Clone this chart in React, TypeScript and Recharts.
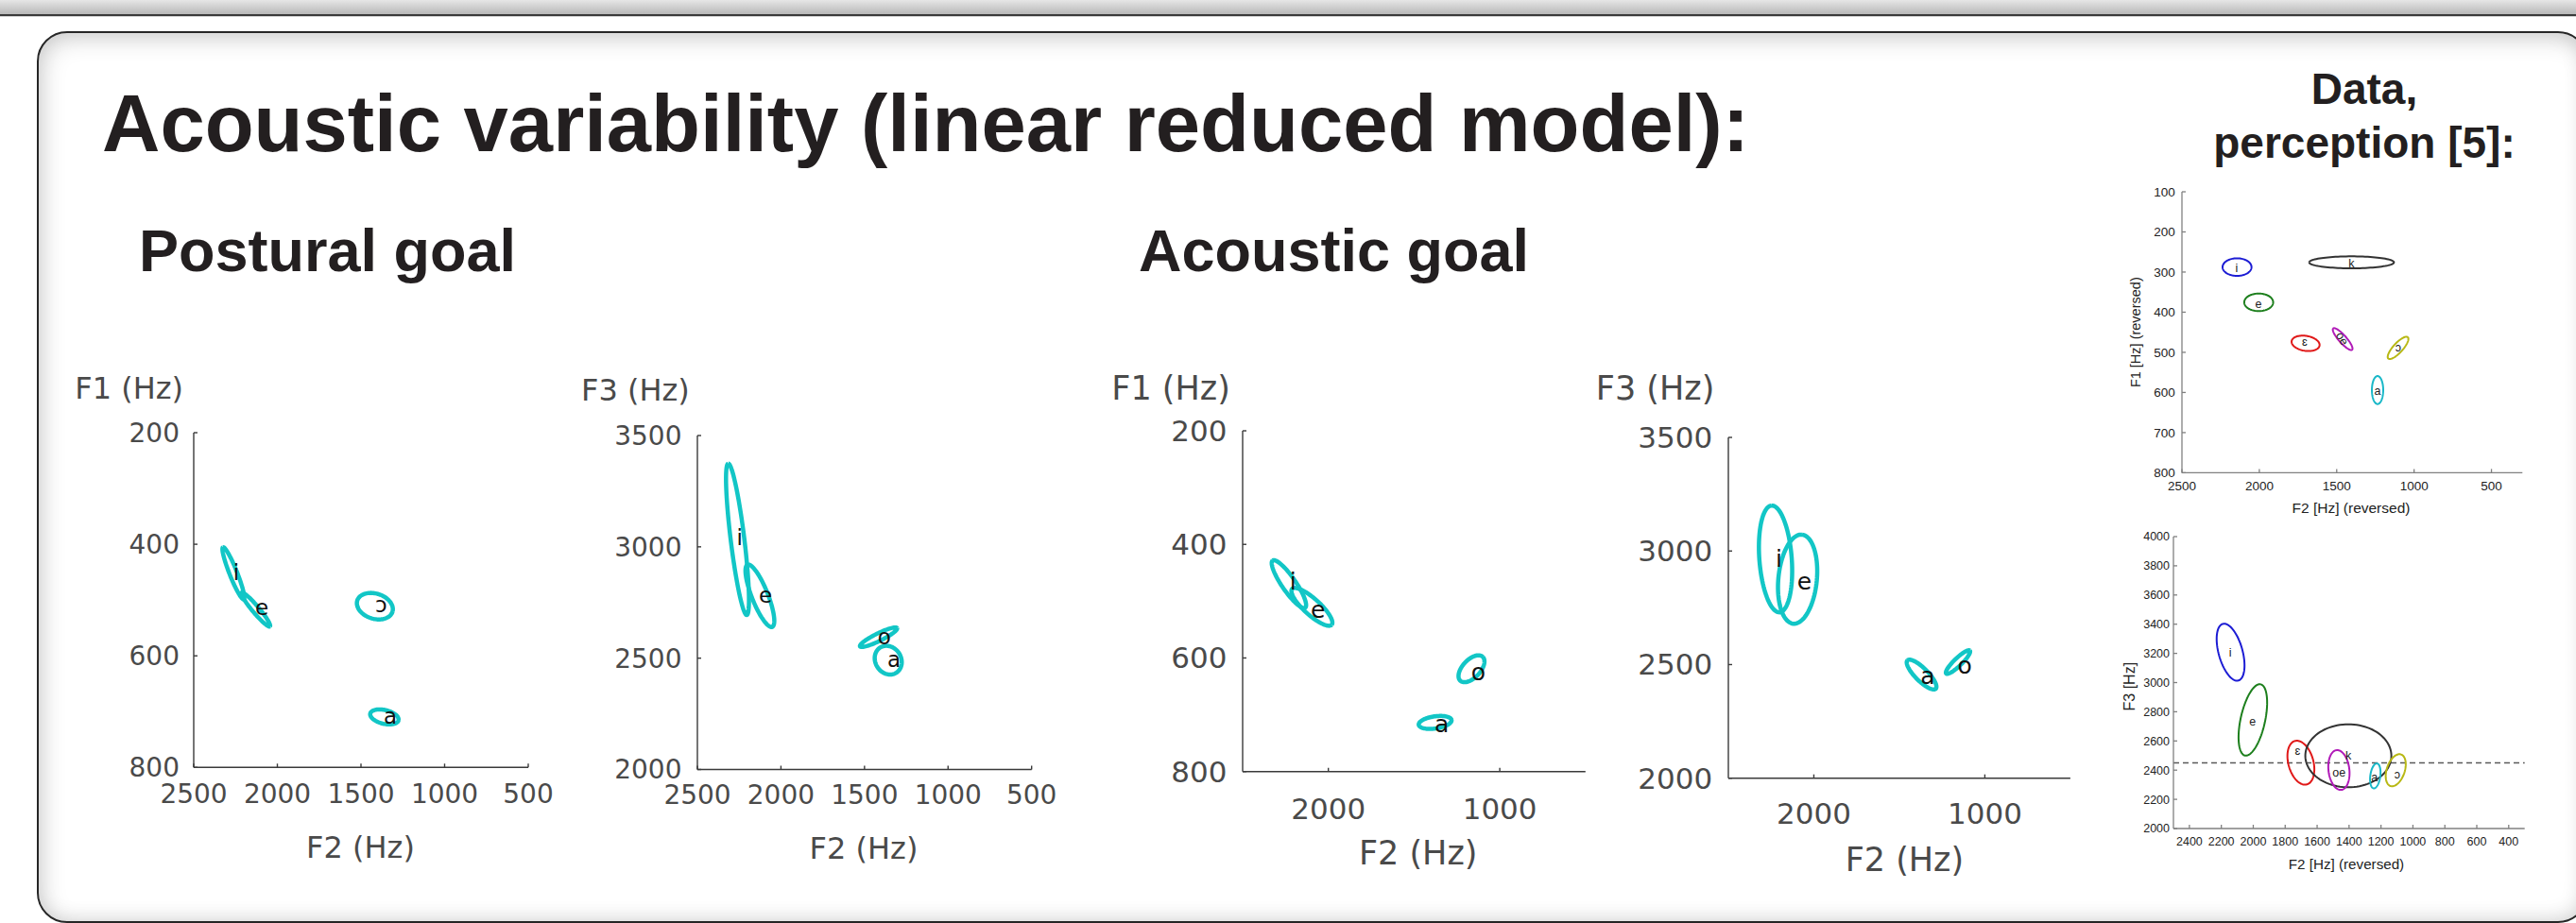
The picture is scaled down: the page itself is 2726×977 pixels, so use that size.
import React from 'react';
import { ScatterChart, Scatter, XAxis, YAxis, ReferenceLine } from 'recharts';

// ---------- data ----------
// Each ellipse: vowel, centre [F2, Fy], two conjugate half-axis vectors [dF2, dFy], label position [F2, Fy]
type Ell = { v: string; c: [number, number]; a: [number, number]; b: [number, number]; l: [number, number]; color?: string };

const posturalF1: Ell[] = [
  { v: 'i', c: [2263, 452], a: [62, -46.6], b: [-20.8, -2.9], l: [2246, 451] },
  { v: 'e', c: [2129, 517], a: [-84.8, 30.2], b: [-14.7, -4.2], l: [2093, 514] },
  { v: 'ɔ', c: [1417, 511], a: [-106, 9.2], b: [18.3, 21.9], l: [1379, 509] },
  { v: 'a', c: [1360, 709.5], a: [-84.6, 5.8], b: [8, 12.1], l: [1325, 708] },
];

const posturalF3: Ell[] = [
  { v: 'i', c: [2260, 3034], a: [55.5, 340], b: [-40.5, 4], l: [2247, 3042] },
  { v: 'e', c: [2126, 2780], a: [74, 139.5], b: [-44.3, 14.2], l: [2093, 2783] },
  { v: 'o', c: [1416, 2594], a: [-111, 40.9], b: [-9.5, -15.6], l: [1381, 2595] },
  { v: 'a', c: [1358, 2491], a: [-56.3, -52.2], b: [58.2, -38], l: [1323, 2495] },
];

const acousticF1: Ell[] = [
  { v: 'i', c: [2230, 470], a: [95, -41.5], b: [-32.4, -7.3], l: [2206, 466] },
  { v: 'e', c: [2096, 510], a: [-115.7, 31.5], b: [-29.9, -10.8], l: [2060, 515] },
  { v: 'o', c: [1165, 619], a: [-66.4, -20.8], b: [-36.2, 11.3], l: [1125, 625] },
  { v: 'a', c: [1377, 713.5], a: [-95.8, -4.2], b: [-4.75, 10.6], l: [1339, 716] },
];

const acousticF3: Ell[] = [
  { v: 'i', c: [2224, 2965], a: [23.7, 235], b: [-94.4, 5.4], l: [2204, 2965] },
  { v: 'e', c: [2095, 2876], a: [-25.6, 196], b: [-111.9, -8.3], l: [2056, 2866] },
  { v: 'a', c: [1370, 2456], a: [82.8, 62.4], b: [-26.3, 19.8], l: [1335, 2450] },
  { v: 'o', c: [1157, 2511], a: [-69.2, 50.4], b: [-15.6, -12.2], l: [1117, 2497] },
];

const perceptionF1: Ell[] = [
  { v: 'i', c: [2144, 287.6], a: [93.5, 0], b: [0, 21.9], l: [2146, 290], color: '#1c1cd4' },
  { v: 'e', c: [2004, 375.4], a: [93.5, 0], b: [0, 21.9], l: [2006, 379], color: '#1d7f1d' },
  { v: 'ɛ', c: [1701, 477.6], a: [90.5, -4], b: [0, 18.8], l: [1707, 475], color: '#e01818' },
  { v: 'oe', c: [1461.5, 467], a: [61, -26.6], b: [-18.3, -6.2], l: [1465, 466], color: '#b11ab8' },
  { v: 'ɔ', c: [1103.6, 489], a: [-63, -26.6], b: [-22.5, 7.9], l: [1102, 488], color: '#b8b814' },
  { v: 'a', c: [1236, 594], a: [0, 34.9], b: [36.6, 0], l: [1236, 597], color: '#1ab8c8' },
  { v: 'k', c: [1404, 275.8], a: [274, 0], b: [0, 14.9], l: [1404, 278], color: '#333333' },
];

const perceptionF3: Ell[] = [
  { v: 'i', c: [2142, 3208], a: [49, 194], b: [-72.2, 21.9], l: [2144, 3204], color: '#1c1cd4' },
  { v: 'e', c: [2002.6, 2744], a: [-49, 244], b: [-74.9, -18.1], l: [2004, 2734], color: '#1d7f1d' },
  { v: 'ɛ', c: [1701.7, 2451], a: [37.2, 148.9], b: [-75.6, 22.7], l: [1723, 2529], color: '#e01818' },
  { v: 'k', c: [1404.5, 2498.5], a: [269.5, 0], b: [0, 215.7], l: [1404, 2497], color: '#333333' },
  { v: 'oe', c: [1463.5, 2401], a: [14.8, 136], b: [-64.9, 8.4], l: [1463, 2385], color: '#b11ab8' },
  { v: 'a', c: [1235.6, 2360.6], a: [-8.9, 85.4], b: [31.5, 0], l: [1241, 2350], color: '#1ab8c8' },
  { v: 'ɔ', c: [1107.6, 2399.5], a: [-33.4, 108], b: [-53.2, -19.9], l: [1098, 2372], color: '#b8b814' },
];

const f2TicksFull = [500, 1000, 1500, 2000, 2500];
const f2TicksSparse = [1000, 2000];
const f1Ticks = [200, 400, 600, 800];
const f3Ticks = [2000, 2500, 3000, 3500];
const percF2TicksTop = [500, 1000, 1500, 2000, 2500];
const percF1Ticks = [100, 200, 300, 400, 500, 600, 700, 800];
const percF2TicksBottom = [400, 600, 800, 1000, 1200, 1400, 1600, 1800, 2000, 2200, 2400];
const percF3Ticks = [2000, 2200, 2400, 2600, 2800, 3000, 3200, 3400, 3600, 3800, 4000];
const percF3Reference = 2450;

// ---------- helpers ----------
const ellipsePts = (e: Ell) => {
  const pts: { x: number; y: number }[] = [];
  const n = 96;
  for (let k = 0; k <= n; k++) {
    const t = (k / n) * Math.PI * 2;
    pts.push({
      x: e.c[0] + Math.cos(t) * e.a[0] + Math.sin(t) * e.b[0],
      y: e.c[1] + Math.cos(t) * e.a[1] + Math.sin(t) * e.b[1],
    });
  }
  return pts;
};

const noShape = () => <g />;

type ChartProps = {
  left: number; top: number; w: number; h: number;
  xDomain: [number, number]; xTicks: number[];
  yDomain: [number, number]; yTicks: number[]; yReversed: boolean;
  ells: Ell[]; color: string; sw: number;
  tickFont: number; tickFamily: string; tickColor: string;
  axisColor: string; axisWidth: number; tickLen: number;
  yGap: number; xOff: number;
  labelFont: number; labelFamily: string; labelColor: string;
  labelRotate?: Record<string, number>;
  refY?: number;
};

function EllipseChart(p: ChartProps) {
  const YW = 120, T = 20, R = 70, XH = 80;
  const labels = p.ells.map((e) => ({ x: e.l[0], y: e.l[1], v: e.v }));
  const labelShape = (s: any) => {
    const rot = p.labelRotate && p.labelRotate[s.payload.v];
    return (
      <text
        x={s.cx}
        y={s.cy}
        textAnchor="middle"
        dominantBaseline="central"
        fontSize={p.labelFont}
        fontFamily={p.labelFamily}
        fill={p.labelColor}
        transform={rot ? `rotate(${rot} ${s.cx} ${s.cy})` : undefined}
      >
        {s.payload.v}
      </text>
    );
  };
  const tickStyle = { fontSize: p.tickFont, fill: p.tickColor, fontFamily: p.tickFamily };
  const lineStyle = { stroke: p.axisColor, strokeWidth: p.axisWidth };
  return (
    <div style={{ position: 'absolute', left: p.left - YW, top: p.top - T }}>
      <ScatterChart width={YW + p.w + R} height={T + p.h + XH} margin={{ top: T, right: R, bottom: 0, left: 0 }}>
        <XAxis
          type="number" dataKey="x" domain={p.xDomain} ticks={p.xTicks} reversed allowDataOverflow interval={0}
          height={XH} tickSize={-p.tickLen} tickMargin={p.xOff + p.tickLen}
          axisLine={lineStyle} tickLine={lineStyle} tick={tickStyle}
        />
        <YAxis
          type="number" dataKey="y" domain={p.yDomain} ticks={p.yTicks} reversed={p.yReversed} allowDataOverflow interval={0}
          width={YW} tickSize={-p.tickLen} tickMargin={p.yGap + p.tickLen}
          axisLine={lineStyle} tickLine={lineStyle} tick={tickStyle}
        />
        {p.refY !== undefined && (
          <ReferenceLine y={p.refY} stroke="#5a5a5a" strokeWidth={1.5} strokeDasharray="6 4" />
        )}
        {p.ells.map((e) => (
          <Scatter
            key={e.v}
            data={ellipsePts(e)}
            line={{ stroke: e.color ?? p.color, strokeWidth: p.sw }}
            lineType="joint"
            shape={noShape}
            isAnimationActive={false}
          />
        ))}
        <Scatter data={labels} shape={labelShape} isAnimationActive={false} />
      </ScatterChart>
    </div>
  );
}

const SANS = "'Liberation Sans', Arial, Helvetica, sans-serif";
const DEJA = "'DejaVu Sans', sans-serif";
const CYAN = '#12c6c6';

const mainCommon = {
  color: CYAN, sw: 4.5, tickFamily: DEJA, tickColor: '#4a4a4a', axisColor: '#3a3a3a', axisWidth: 1.4, tickLen: 4,
  labelFamily: DEJA, labelColor: '#111111',
};
const percCommon = {
  color: '#333', sw: 2, tickFamily: SANS, tickColor: '#222222', axisColor: '#808080', axisWidth: 1.3, tickLen: 4,
  labelFamily: SANS, labelColor: '#222222',
};

export default function App() {
  return (
    <div style={{ position: 'absolute', left: 0, top: 0, width: 2726, height: 977, overflow: 'hidden', background: '#ffffff' }}>
      {/* top bar */}
      <div style={{ position: 'absolute', left: 0, top: 0, width: 2726, height: 15, background: 'linear-gradient(#e6e6e6, #b8b8b8)' }} />
      <div style={{ position: 'absolute', left: 0, top: 15, width: 2726, height: 2, background: '#3a3a3a' }} />
      <div style={{ position: 'absolute', left: 0, top: 17, width: 2726, height: 1, background: '#d6d6d6' }} />
      {/* framed panel */}
      <div
        style={{
          position: 'absolute', left: 39, top: 33, width: 2700, height: 944, boxSizing: 'border-box',
          border: '2px solid #262626', borderRadius: 32, background: '#ffffff',
          boxShadow: 'inset 4px 6px 26px rgba(0,0,0,0.16), inset -4px -2px 22px rgba(0,0,0,0.10)',
        }}
      />

      <EllipseChart {...mainCommon} left={205} top={457.5} w={354} h={354.3}
        xDomain={[500, 2500]} xTicks={f2TicksFull} yDomain={[200, 800]} yTicks={f1Ticks} yReversed
        ells={posturalF1} tickFont={28} yGap={15} xOff={17.5} labelFont={23} />
      <EllipseChart {...mainCommon} left={737.7} top={461.1} w={353.7} h={353.5}
        xDomain={[500, 2500]} xTicks={f2TicksFull} yDomain={[2000, 3500]} yTicks={f3Ticks} yReversed={false}
        ells={posturalF3} tickFont={28} yGap={16.5} xOff={16.5} labelFont={23} />
      <EllipseChart {...mainCommon} left={1314.9} top={455.7} w={362.8} h={360.7}
        xDomain={[500, 2500]} xTicks={f2TicksSparse} yDomain={[200, 800]} yTicks={f1Ticks} yReversed
        ells={acousticF1} tickFont={31} yGap={16.5} xOff={28} labelFont={25} />
      <EllipseChart {...mainCommon} left={1828.6} top={462.9} w={361.9} h={360.7}
        xDomain={[500, 2500]} xTicks={f2TicksSparse} yDomain={[2000, 3500]} yTicks={f3Ticks} yReversed={false}
        ells={acousticF3} tickFont={31} yGap={16.8} xOff={26} labelFont={25} />

      <EllipseChart {...percCommon} left={2309} top={203.3} w={360.3} h={297.4}
        xDomain={[300, 2500]} xTicks={percF2TicksTop} yDomain={[100, 800]} yTicks={percF1Ticks} yReversed
        ells={perceptionF1} tickFont={13.5} yGap={7.3} xOff={9.3} labelFont={12.5} labelRotate={{ oe: 60 }} />
      <EllipseChart {...percCommon} left={2300} top={567.7} w={371.7} h={309}
        xDomain={[300, 2500]} xTicks={percF2TicksBottom} yDomain={[2000, 4000]} yTicks={percF3Ticks} yReversed={false}
        ells={perceptionF3} tickFont={12.5} yGap={4} xOff={8.8} labelFont={12.5} refY={percF3Reference} />

      {/* slide text */}
      <svg width={2726} height={977} style={{ position: 'absolute', left: 0, top: 0, pointerEvents: 'none' }}>
        <g fontFamily={SANS} fontWeight="bold" fill="#231f20">
          <text x={108} y={160} fontSize={85}>Acoustic variability (linear reduced model):</text>
          <text x={147} y={287} fontSize={63}>Postural goal</text>
          <text x={1205} y={287} fontSize={63}>Acoustic goal</text>
          <text x={2502} y={110} fontSize={46} textAnchor="middle">Data,</text>
          <text x={2502} y={167} fontSize={46} textAnchor="middle">perception [5]:</text>
        </g>
        <g fontFamily={DEJA} fill="#4a4a4a">
          <text x={194} y={422} fontSize={32} textAnchor="end">F1 (Hz)</text>
          <text x={381.5} y={907.5} fontSize={32} textAnchor="middle">F2 (Hz)</text>
          <text x={729.8} y={423.6} fontSize={32} textAnchor="end">F3 (Hz)</text>
          <text x={914} y={909.3} fontSize={32} textAnchor="middle">F2 (Hz)</text>
          <text x={1301.8} y={422.9} fontSize={35} textAnchor="end">F1 (Hz)</text>
          <text x={1500.7} y={914.6} fontSize={35} textAnchor="middle">F2 (Hz)</text>
          <text x={1814.3} y={422.9} fontSize={35} textAnchor="end">F3 (Hz)</text>
          <text x={2015.4} y={921.8} fontSize={35} textAnchor="middle">F2 (Hz)</text>
        </g>
        <g fontFamily={SANS} fill="#222222">
          <text x={2260} y={351.7} fontSize={14.5} textAnchor="middle" dominantBaseline="central" transform="rotate(-90 2260 351.7)">F1 [Hz] (reversed)</text>
          <text x={2488} y={537.3} fontSize={15.5} textAnchor="middle" dominantBaseline="central">F2 [Hz] (reversed)</text>
          <text x={2253.3} y={726.7} fontSize={16} textAnchor="middle" dominantBaseline="central" transform="rotate(-90 2253.3 726.7)">F3 [Hz]</text>
          <text x={2483} y={914} fontSize={15.2} textAnchor="middle" dominantBaseline="central">F2 [Hz] (reversed)</text>
        </g>
      </svg>
    </div>
  );
}
